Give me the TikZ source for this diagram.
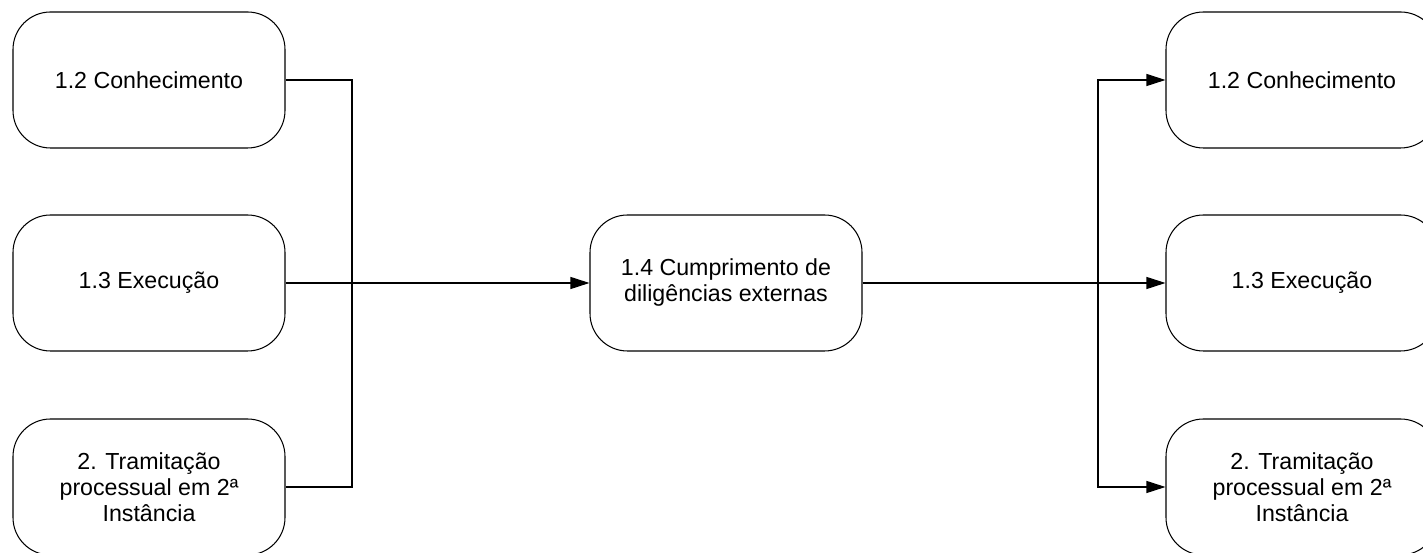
\documentclass[tikz,border=0pt]{standalone}
\usepackage{fontspec}
\setmainfont{Liberation Sans}
\usepackage{tikz}
\usetikzlibrary{arrows.meta, positioning, calc}

\begin{document}
\begin{tikzpicture}[font=\fontsize{13.2pt}{14.8pt}\selectfont,
  procbox/.style={draw, line width=0.6pt, rounded corners=0.75cm, align=center,
    minimum width=5.44cm, minimum height=2.72cm, inner sep=0pt},
  flow/.style={line width=0.6pt},
  flowarr/.style={flow, -{Triangle[length=0.38cm, width=0.24cm]}}]
  \useasboundingbox (0,0) rectangle (28.46,11.06);

  % Inputs (left column)
  \node[procbox] (lconh) at (2.98,9.46) {1.2 Conhecimento};
  \node[procbox] (lexec) at (2.98,5.40) {1.3 Execução};
  \node[procbox] (ltram) at (2.98,1.32) {2. Tramitação\\processual em 2ª\\Instância};

  % Central activity
  \node[procbox] (cumpr) at (14.52,5.40) {1.4 Cumprimento de\\diligências externas};

  % Outputs (right column)
  \node[procbox] (rconh) at (26.04,9.46) {1.2 Conhecimento};
  \node[procbox] (rexec) at (26.04,5.40) {1.3 Execução};
  \node[procbox] (rtram) at (26.04,1.32) {2. Tramitação\\processual em 2ª\\Instância};

  % Connections
  \coordinate (lbus) at (7.04,5.40);
  \coordinate (rbus) at (21.96,5.40);
  \draw[flow] (lconh.east) -| (lbus) |- (ltram.east);
  \draw[flowarr] (lexec.east) -- (cumpr.west);
  \draw[flowarr] (cumpr.east) -- (rexec.west);
  \draw[flowarr] (rbus) |- (rconh.west);
  \draw[flowarr] (rbus) |- (rtram.west);
\end{tikzpicture}
\end{document}
